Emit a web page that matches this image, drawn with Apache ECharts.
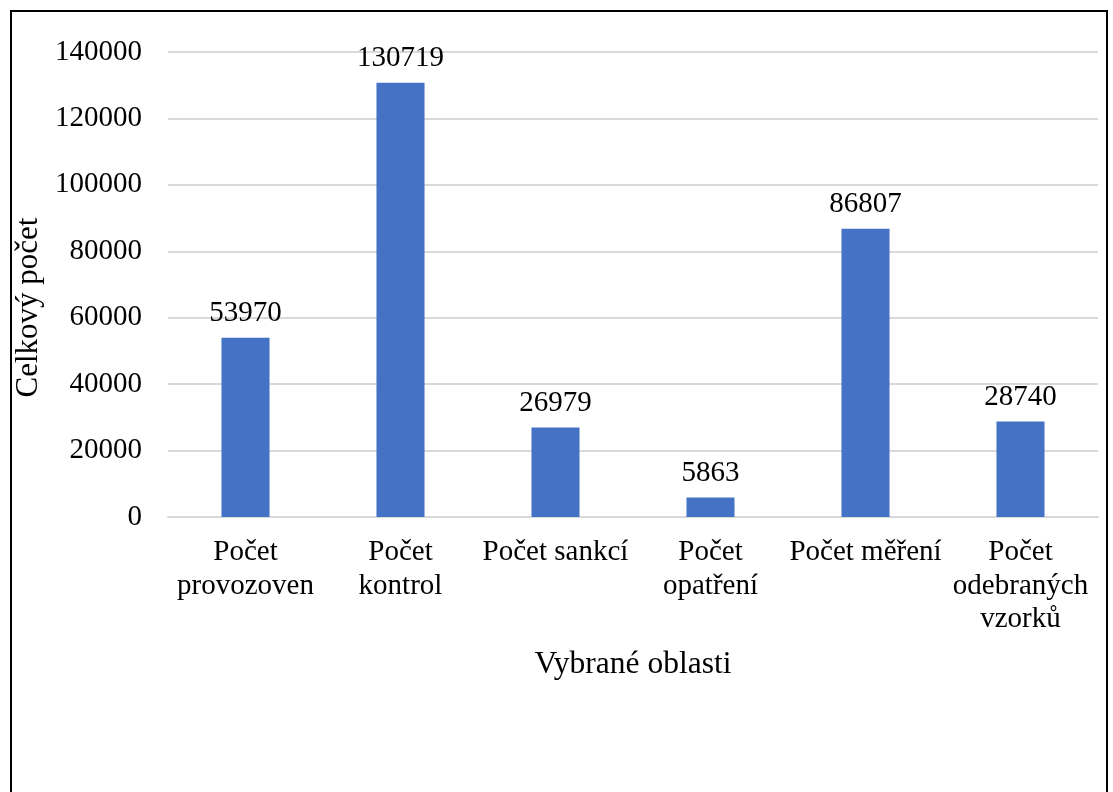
<!DOCTYPE html>
<html>
<head>
<meta charset="utf-8">
<script src="https://cdn.jsdelivr.net/npm/echarts@6/dist/echarts.min.js"></script>
<style>
html,body{margin:0;padding:0;background:#fff;}
#frame{position:absolute;left:10px;top:10px;width:1098px;height:800px;border:2px solid #000;border-bottom:none;box-sizing:border-box;}
#chart{position:absolute;left:0;top:0;width:1113px;height:792px;}
</style>
</head>
<body>
<div id="frame"></div>
<div id="chart"></div>
<script>
const categories = ["Počet\nprovozoven", "Počet\nkontrol", "Počet sankcí", "Počet\nopatření", "Počet měření", "Počet\nodebraných\nvzorků"];
const values = [53970, 130719, 26979, 5863, 86807, 28740];
const yTicks = { min: 0, max: 140000, interval: 20000 };

const FONT = '"Liberation Serif", "Times New Roman", serif';
const chart = echarts.init(document.getElementById('chart'), null, { renderer: 'canvas' });
chart.setOption({
  backgroundColor: 'transparent',
  animation: false,
  grid: { left: 168, right: 15, top: 52, bottom: 275, containLabel: false },
  xAxis: {
    type: 'category',
    data: categories,
    name: 'Vybrané oblasti',
    nameLocation: 'middle',
    nameGap: 132,
    nameTextStyle: { fontFamily: FONT, fontSize: 31.5, color: '#000' },
    axisLine: { lineStyle: { color: '#d9d9d9', width: 2 } },
    axisTick: { show: false },
    axisLabel: { interval: 0, fontFamily: FONT, fontSize: 29, color: '#000', lineHeight: 33.5, margin: 19 }
  },
  yAxis: {
    type: 'value',
    min: yTicks.min, max: yTicks.max, interval: yTicks.interval,
    name: 'Celkový počet',
    nameLocation: 'middle',
    nameGap: 116,
    nameRotate: 90,
    nameTextStyle: { fontFamily: FONT, fontSize: 31, color: '#000', padding: [0, 46, 0, 0] },
    axisLine: { show: false },
    axisTick: { show: false },
    splitLine: { lineStyle: { color: '#d9d9d9', width: 2 } },
    axisLabel: { fontFamily: FONT, fontSize: 29, color: '#000', margin: 26, formatter: v => String(v) }
  },
  series: [{
    type: 'bar',
    data: values,
    barWidth: '31%',
    itemStyle: { color: '#4472C4' },
    label: { show: true, position: 'top', distance: 10, fontFamily: FONT, fontSize: 29, color: '#000', formatter: p => String(p.value) }
  }]
});
</script>
</body>
</html>
